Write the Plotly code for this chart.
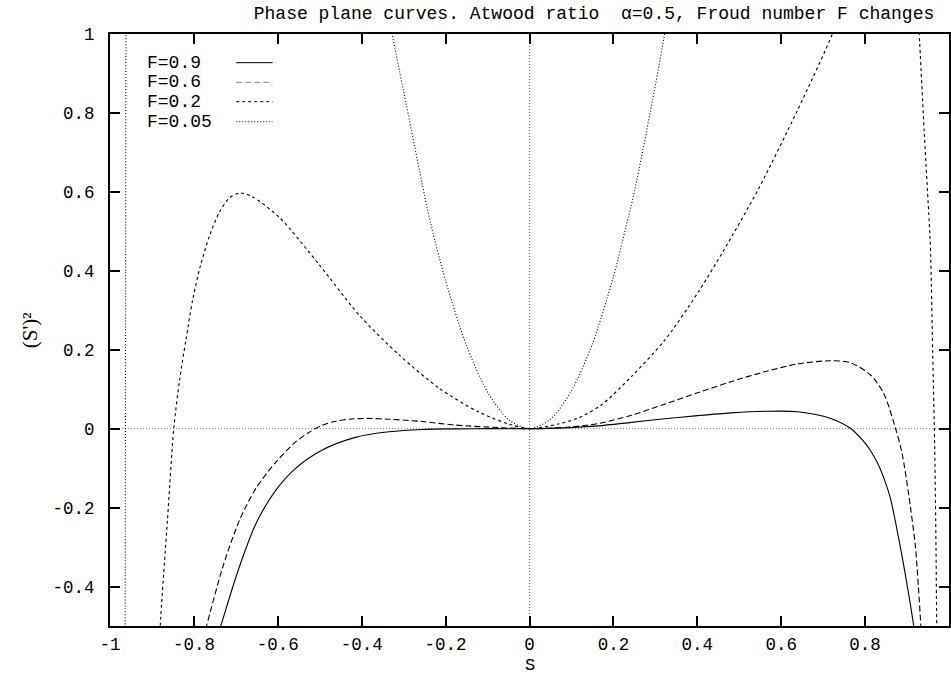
import plotly.graph_objects as go

# ---- data ----
F09_S = [-0.745, -0.736, -0.707, -0.683, -0.652, -0.604, -0.557, -0.494, -0.415, -0.335,
         -0.255, -0.176, -0.097, 0.0, 0.082, 0.164, 0.243, 0.322, 0.401, 0.480, 0.560,
         0.639, 0.718, 0.765, 0.797, 0.813, 0.829, 0.845, 0.860, 0.884, 0.904, 0.916, 0.920]
F09_V = [-0.53, -0.50, -0.40, -0.324, -0.24, -0.155, -0.10, -0.054, -0.022, -0.008,
         -0.002, -0.0005, 0.0, 0.0, 0.002, 0.007, 0.016, 0.025, 0.033, 0.040, 0.044,
         0.043, 0.026, 0.001, -0.033, -0.056, -0.086, -0.126, -0.175, -0.300, -0.420, -0.50, -0.53]

F06_S = [-0.778, -0.770, -0.731, -0.691, -0.652, -0.604, -0.557, -0.525, -0.493, -0.462,
         -0.430, -0.390, -0.335, -0.255, -0.176, -0.097, 0.0, 0.082, 0.164, 0.243, 0.322,
         0.401, 0.480, 0.560, 0.639, 0.718, 0.765, 0.813, 0.844, 0.870, 0.888, 0.908,
         0.920, 0.927, 0.933, 0.935]
F06_V = [-0.53, -0.50, -0.35, -0.231, -0.151, -0.084, -0.033, -0.009, 0.009, 0.019,
         0.024, 0.026, 0.024, 0.018, 0.009, 0.004, 0.0, 0.003, 0.013, 0.034, 0.062,
         0.091, 0.119, 0.144, 0.164, 0.172, 0.167, 0.136, 0.090, 0.010, -0.062, -0.198,
         -0.300, -0.400, -0.50, -0.53]

F02_S = [-0.883, -0.879, -0.863, -0.848, -0.834, -0.819, -0.803, -0.784, -0.762, -0.739,
         -0.715, -0.691, -0.663, -0.596, -0.501, -0.406, -0.311, -0.216, -0.121, -0.050,
         0.0, 0.069, 0.116, 0.171, 0.242, 0.323, 0.401, 0.463, 0.544, 0.639, 0.722, 0.735,
         None,
         0.926, 0.929, 0.941, 0.953, 0.956, 0.961, 0.966, 0.969, 0.971, 0.973]
F02_V = [-0.56, -0.477, -0.231, 0.0, 0.124, 0.225, 0.326, 0.415, 0.491, 0.549,
         0.585, 0.597, 0.589, 0.535, 0.415, 0.288, 0.187, 0.103, 0.042, 0.012,
         0.0, 0.012, 0.027, 0.06, 0.131, 0.225, 0.344, 0.452, 0.604, 0.807, 1.0, 1.04,
         None,
         1.05, 1.0, 0.75, 0.52, 0.452, 0.2, -0.055, -0.3, -0.5, -0.55]

F005_S = [-0.9615, -0.962, -0.963, -0.964, -0.9645,
          None,
          -0.335, -0.327, -0.30, -0.25, -0.233, -0.20, -0.15, -0.10, -0.05, 0.0, 0.05,
          0.10, 0.15, 0.20, 0.229, 0.25, 0.30, 0.322, 0.33]
F005_V = [1.05, 1.0, 0.25, -0.5, -0.55,
          None,
          1.07, 1.0, 0.855, 0.59, 0.508, 0.375, 0.21, 0.093, 0.023, 0.0, 0.024,
          0.096, 0.215, 0.385, 0.508, 0.60, 0.87, 1.0, 1.05]

SERIES_NAMES = ["F=0.9", "F=0.6", "F=0.2", "F=0.05"]
X_TICKS = [-1, -0.8, -0.6, -0.4, -0.2, 0, 0.2, 0.4, 0.6, 0.8, 1]
X_TICK_TEXT = ["-1", "-0.8", "-0.6", "-0.4", "-0.2", "0", "0.2", "0.4", "0.6", "0.8", "1"]
Y_TICKS = [-0.4, -0.2, 0, 0.2, 0.4, 0.6, 0.8, 1]
Y_TICK_TEXT = ["-0.4", "-0.2", "0", "0.2", "0.4", "0.6", "0.8", "1"]

# ---- styles ----
W, H = 951, 675
ML, MR, MT, MB = 110, 0, 34, 49
PW, PH = W - ML - MR, H - MT - MB
MONO = "Liberation Mono, Courier New, monospace"
DASHES = ["solid", "6px,3px", "3px,3px", "1px,2px"]
KEY_COLORS = ["black", "#888", "black", "black"]


def px_x(p):
    return (p - ML) / PW


def px_y(p):
    return (H - MB - p) / PH


fig = go.Figure()
xs = [F09_S, F06_S, F02_S, F005_S]
ys = [F09_V, F06_V, F02_V, F005_V]
for name, x, y, dash in zip(SERIES_NAMES, xs, ys, DASHES):
    fig.add_trace(go.Scatter(x=x, y=y, mode="lines", name=name, showlegend=False,
                             line=dict(color="black", width=1.1, dash=dash,
                                       shape="spline", smoothing=0.8)))

shapes = [
    dict(type="line", xref="paper", yref="y", x0=0, x1=1, y0=0, y1=0,
         line=dict(color="#777", width=1, dash="1px,2px"), layer="below"),
    dict(type="line", xref="x", yref="paper", x0=0, x1=0, y0=0, y1=1,
         line=dict(color="#777", width=1, dash="1px,2px"), layer="below"),
]
annotations = []
key_rows = [62.7, 82.3, 101.7, 121.7]
for name, row, dash, col in zip(SERIES_NAMES, key_rows, DASHES, KEY_COLORS):
    annotations.append(dict(text=name, xref="paper", yref="paper", x=px_x(145), y=px_y(row),
                            xanchor="left", yanchor="middle", showarrow=False,
                            font=dict(family=MONO, size=18, color="black")))
    shapes.append(dict(type="line", xref="paper", yref="paper", x0=px_x(236.5), x1=px_x(273),
                       y0=px_y(row), y1=px_y(row), line=dict(color=col, width=1, dash=dash)))

annotations.append(dict(text="(S')\u00b2", xref="paper", yref="paper", x=px_x(30), y=px_y(330),
                        xanchor="center", yanchor="middle", textangle=-90, showarrow=False,
                        font=dict(family="Liberation Serif, Times New Roman, serif", size=21,
                                  color="black")))
annotations.append(dict(text="S", xref="paper", yref="paper", x=px_x(531), y=px_y(665),
                        xanchor="center", yanchor="middle", showarrow=False,
                        font=dict(family=MONO, size=17, color="black")))

axis_common = dict(showgrid=False, zeroline=False, ticks="inside", ticklen=10, tickwidth=2,
                   tickcolor="black", showline=True, linecolor="black", linewidth=2,
                   mirror="ticks", tickfont=dict(family=MONO, size=17.5, color="black"))

fig.update_layout(
    width=W, height=H,
    margin=dict(l=ML, r=MR, t=MT, b=MB, pad=0),
    paper_bgcolor="white", plot_bgcolor="white",
    title=dict(text="Phase plane curves. Atwood ratio  \u03b1=0.5, Froud number F changes",
               x=594 / W, xanchor="center", y=1 - 13 / H, yanchor="middle",
               xref="container", yref="container",
               font=dict(family=MONO, size=18, color="black")),
    xaxis=dict(range=[-1, 1], tickvals=X_TICKS, ticktext=X_TICK_TEXT, ticklabelstandoff=1,
               **axis_common),
    yaxis=dict(range=[-0.5, 1], tickvals=Y_TICKS, ticktext=Y_TICK_TEXT, ticklabelstandoff=10,
               **axis_common),
    shapes=shapes,
    annotations=annotations,
)

fig.write_html("out.html", config={"displayModeBar": False},
               post_script="document.body.style.margin='0px';document.body.style.overflow='hidden';")
